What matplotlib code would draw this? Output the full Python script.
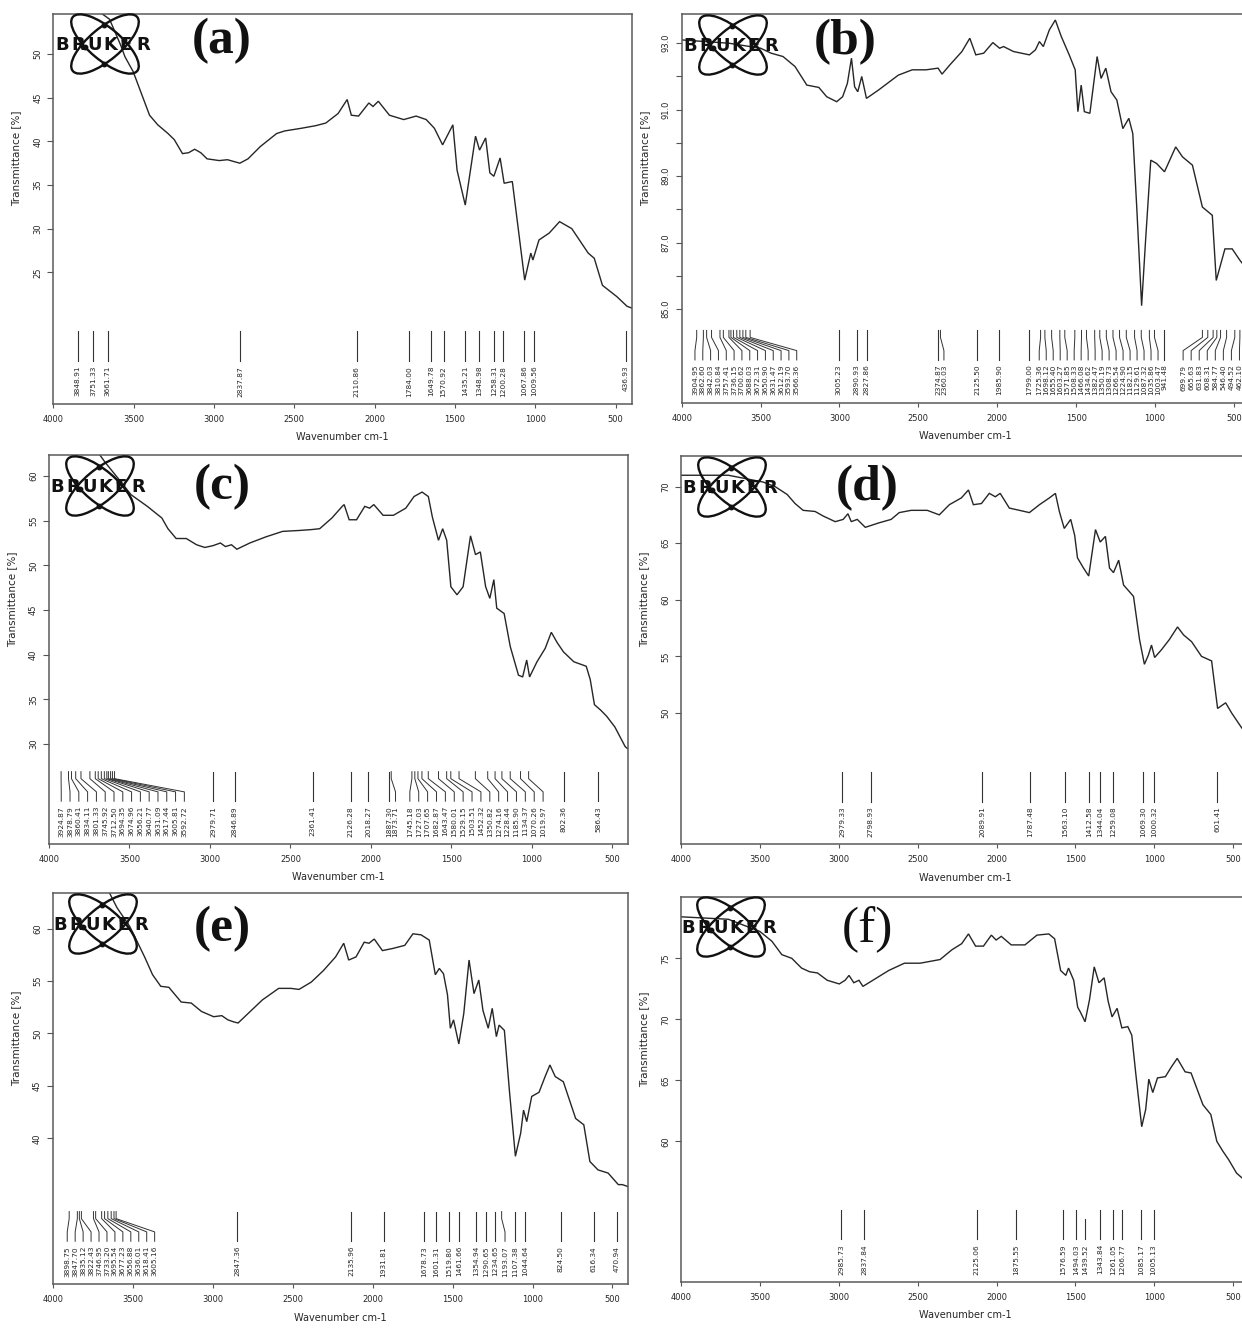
import numpy as np
import matplotlib
matplotlib.use("Agg")
import matplotlib.pyplot as plt
from matplotlib.patches import Ellipse
from matplotlib.transforms import blended_transform_factory

W, H = 1242, 1328

# spectra as (wavenumber cm-1, transmittance %)
spec_a = [(4000, 57.0), (3800, 56.0), (3650, 54.0), (3580, 51.0), (3554, 49.7), (3503, 48.0),
          (3452, 45.5), (3401, 43.0), (3350, 41.9), (3286, 40.9), (3247, 40.2), (3196, 38.6),
          (3158, 38.7), (3120, 39.1), (3082, 38.7), (3043, 38.0), (2967, 37.8), (2916, 37.9),
          (2839, 37.5), (2788, 38.0), (2712, 39.4), (2610, 40.9), (2559, 41.2), (2457, 41.5),
          (2367, 41.8), (2304, 42.1), (2227, 43.2), (2171, 44.8), (2145, 43.0), (2100, 42.9),
          (2036, 44.4), (2010, 44.0), (1977, 44.6), (1908, 43.0), (1819, 42.5), (1742, 42.9),
          (1679, 42.5), (1628, 41.5), (1577, 39.6), (1513, 41.9), (1487, 36.7), (1436, 32.7),
          (1372, 40.6), (1347, 39.0), (1309, 40.4), (1283, 36.4), (1258, 36.0), (1219, 38.1),
          (1194, 35.2), (1143, 35.4), (1066, 24.1), (1028, 27.2), (1015, 26.4), (977, 28.7),
          (913, 29.5), (849, 30.8), (773, 30.0), (671, 27.2), (633, 26.6), (582, 23.5),
          (492, 22.2), (429, 21.1), (400, 20.9)]

spec_b = [(4000, 93.1), (3700, 93.0), (3500, 92.85), (3433, 92.7), (3358, 92.6), (3282, 92.3),
          (3207, 91.74), (3131, 91.67), (3081, 91.39), (3018, 91.24), (2980, 91.39), (2950, 91.79),
          (2924, 92.55), (2904, 91.69), (2884, 91.54), (2859, 92.0), (2829, 91.34), (2753, 91.59),
          (2627, 92.04), (2539, 92.2), (2451, 92.2), (2375, 92.25), (2350, 92.07), (2300, 92.35),
          (2224, 92.75), (2174, 93.15), (2136, 92.65), (2086, 92.7), (2028, 93.02), (1985, 92.85),
          (1960, 92.9), (1897, 92.75), (1796, 92.65), (1758, 92.8), (1733, 93.05), (1708, 92.9),
          (1670, 93.4), (1632, 93.7), (1594, 93.2), (1544, 92.65), (1506, 92.2), (1489, 90.94),
          (1468, 91.74), (1448, 90.94), (1413, 90.89), (1367, 92.6), (1342, 91.94), (1312, 92.25),
          (1279, 91.54), (1242, 91.29), (1204, 90.43), (1166, 90.74), (1141, 90.28), (1116, 88.07),
          (1085, 85.1), (1060, 87.06), (1027, 89.48), (990, 89.38), (940, 89.13), (869, 89.88),
          (826, 89.58), (763, 89.33), (700, 88.07), (637, 87.82), (612, 85.86), (557, 86.81),
          (511, 86.81), (461, 86.46), (400, 86.1)]

spec_c = [(4000, 65.0), (3750, 64.0), (3650, 61.5), (3560, 59.5), (3490, 57.9), (3389, 56.6),
          (3299, 55.3), (3261, 54.1), (3210, 53.0), (3147, 53.0), (3083, 52.3), (3032, 52.0),
          (2981, 52.2), (2935, 52.5), (2904, 52.1), (2866, 52.3), (2833, 51.8), (2752, 52.5),
          (2650, 53.2), (2548, 53.8), (2446, 53.9), (2369, 54.0), (2318, 54.1), (2242, 55.3),
          (2178, 56.6), (2166, 56.8), (2135, 55.1), (2089, 55.1), (2038, 56.6), (2008, 56.4),
          (1982, 56.8), (1924, 55.6), (1860, 55.6), (1783, 56.4), (1732, 57.7), (1682, 58.2),
          (1643, 57.7), (1618, 55.4), (1580, 52.8), (1554, 54.1), (1529, 52.8), (1503, 47.6),
          (1465, 46.7), (1427, 47.6), (1381, 53.3), (1350, 51.2), (1320, 51.5), (1287, 47.6),
          (1261, 46.3), (1236, 48.4), (1218, 45.2), (1172, 44.6), (1134, 40.9), (1083, 37.7),
          (1057, 37.5), (1032, 39.4), (1014, 37.5), (968, 39.2), (917, 40.7), (879, 42.5),
          (841, 41.3), (803, 40.3), (739, 39.2), (662, 38.7), (637, 37.2), (611, 34.4),
          (573, 33.8), (535, 33.1), (484, 31.9), (420, 29.7), (400, 29.4)]

spec_d = [(4000, 71.0), (3700, 71.0), (3480, 70.4), (3404, 70.0), (3327, 69.3), (3277, 68.5),
          (3226, 67.9), (3150, 67.8), (3099, 67.4), (3023, 66.9), (2972, 67.1), (2942, 67.6),
          (2921, 66.9), (2883, 67.1), (2832, 66.4), (2744, 66.8), (2668, 67.1), (2617, 67.7),
          (2541, 67.9), (2439, 67.9), (2363, 67.5), (2299, 68.4), (2223, 69.0), (2178, 69.7),
          (2147, 68.4), (2096, 68.5), (2046, 69.4), (2008, 69.1), (1977, 69.4), (1919, 68.1),
          (1855, 67.9), (1792, 67.7), (1728, 68.4), (1665, 69.0), (1627, 69.4), (1602, 67.8),
          (1571, 66.3), (1530, 67.1), (1505, 65.7), (1487, 63.7), (1449, 62.8), (1416, 62.1),
          (1373, 66.2), (1343, 65.1), (1310, 65.6), (1284, 62.8), (1259, 62.4), (1226, 63.5),
          (1195, 61.3), (1157, 60.7), (1132, 60.3), (1094, 56.5), (1063, 54.3), (1038, 55.1),
          (1018, 56.0), (998, 54.9), (954, 55.6), (904, 56.5), (853, 57.6), (815, 56.9),
          (764, 56.3), (701, 55.0), (637, 54.6), (599, 50.4), (548, 50.9), (510, 50.0),
          (447, 48.7), (400, 47.9)]

spec_e = [(4000, 67.0), (3700, 65.0), (3600, 62.0), (3520, 60.2), (3478, 58.9), (3427, 57.3),
          (3377, 55.6), (3326, 54.5), (3275, 54.4), (3198, 53.0), (3135, 52.9), (3071, 52.1),
          (2995, 51.6), (2944, 51.7), (2906, 51.3), (2868, 51.1), (2842, 51.0), (2766, 52.1),
          (2690, 53.2), (2588, 54.3), (2511, 54.3), (2461, 54.2), (2384, 54.9), (2308, 56.0),
          (2232, 57.3), (2181, 58.6), (2150, 57.0), (2104, 57.3), (2053, 58.7), (2023, 58.6),
          (1990, 59.0), (1939, 57.9), (1875, 58.1), (1799, 58.4), (1748, 59.5), (1697, 59.4),
          (1646, 58.9), (1608, 55.6), (1583, 56.2), (1557, 55.7), (1532, 53.7), (1514, 50.5),
          (1494, 51.3), (1461, 49.0), (1430, 51.9), (1397, 57.0), (1366, 53.8), (1336, 55.1),
          (1310, 52.2), (1277, 50.5), (1252, 52.4), (1226, 49.7), (1209, 50.8), (1176, 50.3),
          (1143, 44.3), (1107, 38.3), (1074, 40.5), (1056, 42.7), (1036, 41.6), (1005, 44.0),
          (959, 44.4), (921, 45.9), (891, 47.0), (858, 45.9), (807, 45.4), (730, 41.9),
          (679, 41.3), (641, 37.8), (590, 37.0), (527, 36.7), (463, 35.6), (438, 35.6),
          (400, 35.4)]

spec_f = [(4000, 78.4), (3700, 78.2), (3500, 77.2), (3424, 76.4), (3361, 75.3), (3298, 75.0),
          (3236, 74.2), (3185, 73.9), (3135, 73.8), (3073, 73.2), (2997, 72.9), (2960, 73.2),
          (2935, 73.6), (2905, 73.0), (2872, 73.2), (2847, 72.7), (2784, 73.2), (2684, 74.0),
          (2584, 74.6), (2484, 74.6), (2358, 74.9), (2283, 75.7), (2221, 76.2), (2178, 77.0),
          (2133, 76.0), (2083, 76.0), (2033, 76.9), (2003, 76.5), (1970, 76.8), (1907, 76.1),
          (1820, 76.1), (1744, 76.9), (1669, 77.0), (1632, 76.6), (1594, 74.0), (1561, 73.6),
          (1544, 74.2), (1511, 73.2), (1486, 71.0), (1469, 70.6), (1439, 69.8), (1411, 71.6),
          (1381, 74.3), (1351, 73.0), (1318, 73.4), (1293, 71.5), (1268, 70.2), (1236, 70.9),
          (1206, 69.3), (1168, 69.4), (1143, 68.7), (1118, 65.6), (1080, 61.2), (1055, 62.6),
          (1035, 65.1), (1010, 64.0), (980, 65.2), (930, 65.3), (892, 66.1), (855, 66.8),
          (805, 65.7), (767, 65.6), (692, 63.0), (642, 62.2), (604, 60.0), (566, 59.2),
          (529, 58.5), (479, 57.4), (400, 56.5)]

# picked peak positions (cm-1)
peaks_a = [3848.91, 3751.33, 3661.71, 2837.87, 2110.86, 1784.00, 1649.78, 1570.92,
           1435.21, 1348.98, 1258.31, 1200.28, 1067.86, 1009.56, 436.93]

peaks_b = [3904.95, 3862.60, 3842.03, 3810.84, 3757.41, 3736.15, 3700.62, 3688.03,
           3672.31, 3650.90, 3631.47, 3612.19, 3593.70, 3566.36,
           3005.23, 2890.93, 2827.86, 2374.87, 2360.03, 2125.50, 1985.90, 1799.00,
           1725.36, 1698.12, 1655.40, 1603.27, 1571.85, 1508.33, 1466.08, 1434.62,
           1382.47, 1350.19, 1308.73, 1266.54, 1224.90, 1182.15, 1129.61, 1087.32,
           1035.86, 1003.47, 941.48,
           699.79, 665.63, 631.83, 608.31, 584.77, 546.40, 494.52, 462.10]

peaks_c = [3924.87, 3878.79, 3860.41, 3834.11, 3801.33, 3745.92, 3712.50, 3694.35,
           3674.96, 3656.21, 3640.77, 3631.09, 3617.44, 3605.81, 3592.72,
           2979.71, 2846.89, 2361.41, 2126.28, 2018.27, 1887.30, 1873.71,
           1745.18, 1727.03, 1707.65, 1682.87, 1643.47, 1580.01, 1529.15, 1503.51,
           1452.32, 1350.82, 1274.16, 1228.44, 1185.90, 1134.37, 1070.26, 1019.97,
           802.36, 586.43]

peaks_d = [2979.33, 2798.93, 2089.91, 1787.48, 1563.10, 1412.58, 1344.04, 1259.08,
           1069.30, 1000.32, 601.41]

peaks_e = [3898.75, 3847.70, 3835.12, 3822.43, 3746.95, 3733.20, 3695.54, 3677.23,
           3656.88, 3636.01, 3618.41, 3605.16,
           2847.36, 2135.96, 1931.81, 1678.73, 1601.31, 1519.80, 1461.66, 1354.94,
           1290.65, 1234.65, 1193.07, 1107.38, 1044.64, 824.50, 616.34, 470.94]

peaks_f = [2985.73, 2837.84, 2125.06, 1875.55, 1576.59, 1494.03, 1439.52, 1343.84,
           1261.05, 1206.77, 1085.17, 1005.13]

xticks = [4000, 3500, 3000, 2500, 2000, 1500, 1000, 500]
yticks_a = [25, 30, 35, 40, 45, 50]
yticks_b = [85, 86, 87, 88, 89, 90, 91, 92, 93]
yticks_c = [30, 35, 40, 45, 50, 55, 60]
yticks_d = [50, 55, 60, 65, 70]
yticks_e = [40, 45, 50, 55, 60]
yticks_f = [60, 65, 70, 75]

fig = plt.figure(figsize=(W / 100, H / 100), dpi=100)
fig.patch.set_facecolor("white")

INK = "#262626"


def spread(peaks, fans):
    # label x positions: crowded peaks get their labels fanned out evenly
    lx = list(peaks)
    for i0, i1, s0, s1 in fans:
        lx[i0:i1] = list(np.linspace(s0, s1, i1 - i0))
    return lx


def panel(box, spec, ylim, yticks, ylabels, peaks, fans=(), short=()):
    l, t, r, b = box
    ax = fig.add_axes([l / W, 1 - b / H, (r - l) / W, (b - t) / H])
    wn, tr = np.array(spec).T
    ax.plot(wn, tr, color=INK, lw=1.0, solid_joinstyle="miter")
    ax.set_xlim(4000, 400)
    ax.set_ylim(*ylim)
    ax.set_xticks(xticks)
    ax.set_xticklabels([str(v) for v in xticks], fontsize=6, color=INK)
    ax.set_yticks(yticks)
    ax.set_yticklabels(ylabels, fontsize=6, color=INK, rotation=90, va="center")
    ax.tick_params(axis="x", direction="out", length=3, width=0.8, pad=5, colors="#555")
    ax.tick_params(axis="y", direction="out", length=4, width=0.8, pad=4, colors="#555")
    for lab in ax.get_xticklabels() + ax.get_yticklabels():
        lab.set_color(INK)
    for sp in ax.spines.values():
        sp.set_color("#5a5a5a")
        sp.set_linewidth(1.1)
    ax.set_xlabel("Wavenumber cm-1", fontsize=7, color=INK, labelpad=6)
    ax.set_ylabel("Transmittance [%]", fontsize=7.5, color=INK)
    ax.yaxis.set_label_coords(-32 / (r - l), 0.63)

    tf = blended_transform_factory(ax.transData, ax.transAxes)
    lx = spread(peaks, fans)
    for i, (p, x) in enumerate(zip(peaks, lx)):
        top = 0.162 if i in short else 0.186
        if abs(p - x) < 1e-6:
            ax.plot([p, p], [top, 0.11], transform=tf, color="#333", lw=0.8)
        else:
            ax.plot([p, p, x, x], [top, 0.168, 0.134, 0.11], transform=tf,
                    color="#333", lw=0.7)
        ax.text(x, 0.098, f"{p:.2f}", transform=tf, rotation=90, ha="center",
                va="top", fontsize=5.3, color=INK)
    return ax


panel((53.3, 14, 631.7, 404), spec_a, (9.9, 54.6), yticks_a,
      [str(v) for v in yticks_a], peaks_a)
panel((681.7, 14, 1249.7, 402.7), spec_b, (82.18, 93.88), yticks_b,
      [f"{v:.1f}" if v % 2 else "" for v in yticks_b], peaks_b,
      fans=[(0, 14, 3916, 3271), (18, 19, 2338, 2338),
            (22, 40, 1734, 981), (41, 49, 822, 465)])
panel((49, 455, 628.4, 844), spec_c, (18.8, 62.35), yticks_c,
      [str(v) for v in yticks_c], peaks_c,
      fans=[(0, 15, 3924, 3159), (21, 22, 1847, 1847), (22, 38, 1758, 930)])
panel((681, 456, 1249, 844.3), spec_d, (38.4, 72.7), yticks_d,
      [str(v) for v in yticks_d], peaks_d)
panel((53, 893.3, 628.4, 1284.3), spec_e, (26.1, 63.36), yticks_e,
      [str(v) for v in yticks_e], peaks_e,
      fans=[(0, 12, 3911, 3364), (22, 23, 1172, 1172)])
panel((681, 897.3, 1249, 1281.7), spec_f, (48.5, 80.0), yticks_f,
      [str(v) for v in yticks_f], peaks_f, short=(6,))

# overlay in pixel space for the instrument logos and panel letters
ov = fig.add_axes([0, 0, 1, 1], zorder=10)
ov.set_xlim(0, W)
ov.set_ylim(H, 0)
ov.axis("off")
ov.patch.set_alpha(0)


def logo(x0, yc):
    cx, cy = x0 + 50, yc - 1
    for ang in (40, -40):
        ov.add_patch(Ellipse((cx, cy), 84, 32, angle=ang, fill=False,
                             ec="#111", lw=1.7))
        th = np.radians(ang)
        for t in (1.9, 5.0):
            ex, ey = 42 * np.cos(t), 16 * np.sin(t)
            ov.plot(cx + ex * np.cos(th) - ey * np.sin(th),
                    cy + ex * np.sin(th) + ey * np.cos(th),
                    "o", ms=3.2, color="#111")
    for i, ch in enumerate("BRUKER"):
        ov.text(x0 + i * 16.2, yc, ch, fontsize=13, fontweight="heavy",
                family="DejaVu Sans", color="#111", ha="left", va="center")


for x0, yc in [(55, 45), (683, 46), (50, 487), (682, 488), (53, 925), (681, 928)]:
    logo(x0, yc)

for txt, x, y, wt in [("(a)", 222, 41, "bold"), ("(b)", 845, 42, "bold"),
                      ("(c)", 222, 487, "bold"), ("(d)", 867, 488, "bold"),
                      ("(e)", 222, 929, "bold"), ("(f)", 867, 930, "normal")]:
    ov.text(x, y, txt, fontsize=37, fontweight=wt, family="Liberation Serif",
            color="#111", ha="center", va="center")

fig.savefig("out.png", dpi=100)
